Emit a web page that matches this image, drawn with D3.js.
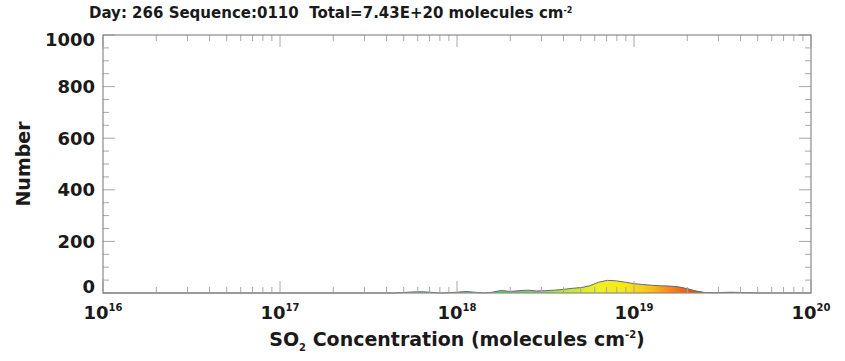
<!DOCTYPE html>
<html>
<head>
<meta charset="utf-8">
<script src="https://cdn.jsdelivr.net/npm/d3@7"></script>
<style>
  html, body { margin: 0; padding: 0; background: #fff; }
  svg { display: block; }
  text { font-family: "DejaVu Sans", "Liberation Sans", sans-serif; fill: #1a1a1a; white-space: pre; }
</style>
</head>
<body>
<svg id="chart" width="845" height="361"></svg>
<script>
// Histogram of SO2 column concentration (log10 bin centres, molecules cm^-2)
const logConc = [16.00, 17.50, 17.55, 17.60, 17.65, 17.70, 17.75, 17.80, 17.85, 17.90, 17.95,
  18.00, 18.05, 18.10, 18.15, 18.20, 18.25, 18.30, 18.35, 18.40, 18.45,
  18.50, 18.55, 18.60, 18.65, 18.70, 18.75, 18.80, 18.85, 18.90, 18.95,
  19.00, 19.05, 19.10, 19.15, 19.20, 19.25, 19.30, 19.35, 19.40, 19.45,
  19.50, 19.55, 19.60, 19.65, 19.70, 20.00];
const counts = [0, 0, 0, 0, 0, 2, 4, 5, 3, 0, 1,
  3, 6, 3, 0, 3, 10, 6, 9, 11, 8,
  9, 11, 14, 18, 21, 28, 42, 49, 47, 42,
  36, 33, 30, 28, 27, 24, 17, 8, 2, 1,
  2, 3, 2, 1, 0, 0];

// Axis ticks
const yTicks = [0, 200, 400, 600, 800, 1000];
const xDecades = [16, 17, 18, 19, 20];

// Fill colour ramp along log concentration
const rampStops = [16.0, 17.6, 17.8, 18.05, 18.3, 18.45, 18.6, 18.8, 18.95, 19.1, 19.2, 19.3, 19.4, 19.6, 20.0];
const rampColors = ["#7a30ff", "#38b8ff", "#5ad0b0", "#50d878", "#4ee050", "#6de040", "#b8e830",
  "#f0f020", "#f8e818", "#f8c018", "#f88818", "#f05a10", "#e83010", "#d82020", "#c01010"];

const titleText = "Day: 266 Sequence:0110  Total=7.43E+20 molecules cm";

const svg = d3.select("#chart");
const m = { left: 103, right: 811, top: 35, bottom: 293 };

const x = d3.scaleLog().domain([1e16, 1e20]).range([m.left, m.right]);
const y = d3.scaleLinear().domain([0, 1000]).range([m.bottom, m.top]);

const pts = logConc.map((l, i) => ({ v: Math.pow(10, l), c: counts[i] }));

// gradient across the plot width following the colour ramp
const defs = svg.append("defs");
const grad = defs.append("linearGradient")
  .attr("id", "ramp").attr("gradientUnits", "userSpaceOnUse")
  .attr("x1", m.left).attr("x2", m.right).attr("y1", 0).attr("y2", 0);
rampStops.forEach((s, i) => {
  grad.append("stop")
    .attr("offset", (x(Math.pow(10, s)) - m.left) / (m.right - m.left))
    .attr("stop-color", rampColors[i]);
});

// filled histogram
const area = d3.area().x(d => x(d.v)).y0(y(0)).y1(d => y(d.c));
svg.append("path").datum(pts).attr("d", area).attr("fill", "url(#ramp)");

const line = d3.line().x(d => x(d.v)).y(d => y(d.c));
svg.append("path").datum(pts).attr("d", line)
  .attr("fill", "none").attr("stroke", "#6a6a6a").attr("stroke-width", 1);

// ticks (inward on all four sides)
const tickG = svg.append("g").attr("stroke", "#a8a8a8").attr("stroke-width", 1);
const majorLen = 12, minorLen = 6;
const minorX = [];
for (let d = 16; d < 20; d++) for (let k = 2; k <= 9; k++) minorX.push(k * Math.pow(10, d));
xDecades.forEach(d => {
  const px = x(Math.pow(10, d));
  tickG.append("line").attr("x1", px).attr("x2", px).attr("y1", m.bottom).attr("y2", m.bottom - majorLen);
  tickG.append("line").attr("x1", px).attr("x2", px).attr("y1", m.top).attr("y2", m.top + majorLen);
});
minorX.forEach(v => {
  const px = x(v);
  tickG.append("line").attr("x1", px).attr("x2", px).attr("y1", m.bottom).attr("y2", m.bottom - minorLen);
  tickG.append("line").attr("x1", px).attr("x2", px).attr("y1", m.top).attr("y2", m.top + minorLen);
});
d3.range(0, 1001, 50).forEach(v => {
  const py = y(v);
  const len = v % 200 === 0 ? majorLen : minorLen;
  tickG.append("line").attr("x1", m.left).attr("x2", m.left + len).attr("y1", py).attr("y2", py);
  tickG.append("line").attr("x1", m.right).attr("x2", m.right - len).attr("y1", py).attr("y2", py);
});

// plot frame
svg.append("rect")
  .attr("x", m.left).attr("y", m.top)
  .attr("width", m.right - m.left).attr("height", m.bottom - m.top)
  .attr("fill", "none").attr("stroke", "#8a8a8a").attr("stroke-width", 1.2);

// y tick labels (end labels tucked inside the axis range)
svg.append("g").selectAll("text").data(yTicks).join("text")
  .attr("x", m.left - 8)
  .attr("y", d => y(d) + (d === 0 ? -6 : d === 1000 ? 5 : 0))
  .attr("dy", "0.36em")
  .attr("text-anchor", "end").attr("font-size", 18).attr("font-weight", "bold")
  .text(d => d);

// x tick labels: 10 with superscript exponent
const xl = svg.append("g").selectAll("text").data(xDecades).join("text")
  .attr("x", d => x(Math.pow(10, d))).attr("y", 319)
  .attr("text-anchor", "middle").attr("font-size", 18).attr("font-weight", "bold");
xl.append("tspan").text("10");
xl.append("tspan").attr("dy", -8).attr("font-size", 10).text(d => d);

// axis titles
svg.append("text")
  .attr("transform", `translate(30,${(m.top + m.bottom) / 2}) rotate(-90)`)
  .attr("text-anchor", "middle").attr("font-size", 19).attr("font-weight", "bold")
  .text("Number");

const xt = svg.append("text")
  .attr("x", (m.left + m.right) / 2).attr("y", 346)
  .attr("text-anchor", "middle").attr("font-size", 19).attr("font-weight", "bold");
xt.append("tspan").text("SO");
xt.append("tspan").attr("dy", 5).attr("font-size", 10).text("2");
xt.append("tspan").attr("dy", -5).text(" Concentration (molecules cm");
xt.append("tspan").attr("dy", -8).attr("font-size", 10).text("-2");
xt.append("tspan").attr("dy", 8).text(")");

// header line
const tt = svg.append("text").attr("x", 89).attr("y", 18)
  .attr("font-size", 15).attr("font-weight", "bold");
tt.append("tspan").text(titleText);
tt.append("tspan").attr("dy", -5).attr("font-size", 8).text("-2");
</script>
</body>
</html>
